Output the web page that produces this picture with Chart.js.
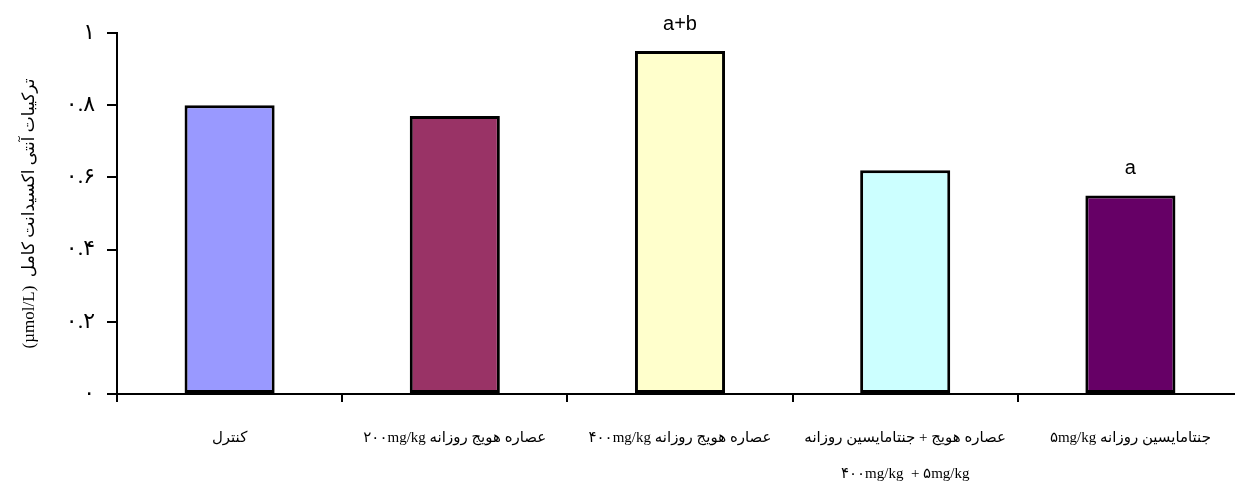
<!DOCTYPE html>
<html lang="fa">
<head>
<meta charset="utf-8">
<title>ترکیبات آنتی اکسیدانت کامل</title>
<script src="https://cdn.jsdelivr.net/npm/chart.js@4"></script>
<style>
  html, body { margin: 0; padding: 0; background: #ffffff; overflow: hidden; }
  #chart { display: block; direction: rtl; }
</style>
</head>
<body>
<canvas id="chart" width="1250" height="484"></canvas>
<script>
// Groups along the x axis (Persian, right-to-left text)
const categories = [
  'کنترل',
  'عصاره هویج روزانه ۲۰۰mg/kg',
  'عصاره هویج روزانه ۴۰۰mg/kg',
  ['عصاره هویج + جنتامایسین روزانه', '۴۰۰mg/kg  + ۵mg/kg'],
  'جنتامایسین روزانه ۵mg/kg'
];

// Total antioxidant capacity (µmol/L) per group
const values = [0.80, 0.77, 0.95, 0.62, 0.55];

// Fill colour of each bar
const barColors = ['#9999FF', '#993366', '#FFFFCC', '#CCFFFF', '#660066'];

// Significance letters written above the bars
const sigLabels = ['', '', 'a+b', '', 'a'];

// Y axis tick labels in Persian digits (0 to 1 in steps of 0.2)
const yTickLabels = ['۰', '۰.۲', '۰.۴', '۰.۶', '۰.۸', '۱'];

const yTitle = 'ترکیبات آنتی اکسیدانت کامل  (µmol/L)';

const persianFont = "'Liberation Serif', 'DejaVu Sans', serif";

// Draws the significance letters centred above their bars
const sigLetters = {
  id: 'sigLetters',
  afterDatasetsDraw(chart) {
    const ctx = chart.ctx;
    const meta = chart.getDatasetMeta(0);
    ctx.save();
    ctx.fillStyle = '#000000';
    ctx.font = "20px 'Liberation Sans', Arial, sans-serif";
    ctx.textAlign = 'center';
    ctx.textBaseline = 'middle';
    meta.data.forEach((bar, i) => {
      if (sigLabels[i]) {
        ctx.fillText(sigLabels[i], bar.x, bar.y - 27);
      }
    });
    ctx.restore();
  }
};

new Chart(document.getElementById('chart'), {
  type: 'bar',
  data: {
    labels: categories,
    datasets: [{
      data: values,
      backgroundColor: barColors,
      borderColor: '#000000',
      borderWidth: 3,
      borderSkipped: false,
      barPercentage: 0.8,
      categoryPercentage: 0.5
    }]
  },
  options: {
    responsive: false,
    animation: false,
    devicePixelRatio: 1,
    layout: { padding: { top: 33, right: 7, bottom: 0, left: 0 } },
    plugins: {
      legend: { display: false },
      tooltip: { enabled: false }
    },
    scales: {
      x: {
        grid: {
          offset: true,
          drawOnChartArea: false,
          drawTicks: true,
          tickLength: 8,
          color: '#000000',
          lineWidth: 2
        },
        border: { display: true, color: '#000000', width: 2 },
        ticks: {
          color: '#000000',
          maxRotation: 0,
          autoSkip: false,
          padding: 18,
          font: { family: persianFont, size: 15, lineHeight: '36px' }
        },
        afterFit(axis) { axis.height = 90; }
      },
      y: {
        min: 0,
        max: 1,
        grid: {
          drawOnChartArea: false,
          drawTicks: true,
          tickLength: 10,
          color: '#000000',
          lineWidth: 2
        },
        border: { display: true, color: '#000000', width: 2 },
        ticks: {
          stepSize: 0.2,
          color: '#000000',
          padding: 12,
          font: { family: persianFont, size: 22 },
          callback: (value, index) => yTickLabels[index]
        },
        title: {
          display: true,
          text: yTitle,
          color: '#000000',
          padding: { top: 19, bottom: 0 },
          font: { family: persianFont, size: 17 }
        },
        afterFit(axis) { axis.width = 117; }
      }
    }
  },
  plugins: [sigLetters]
});
</script>
</body>
</html>
